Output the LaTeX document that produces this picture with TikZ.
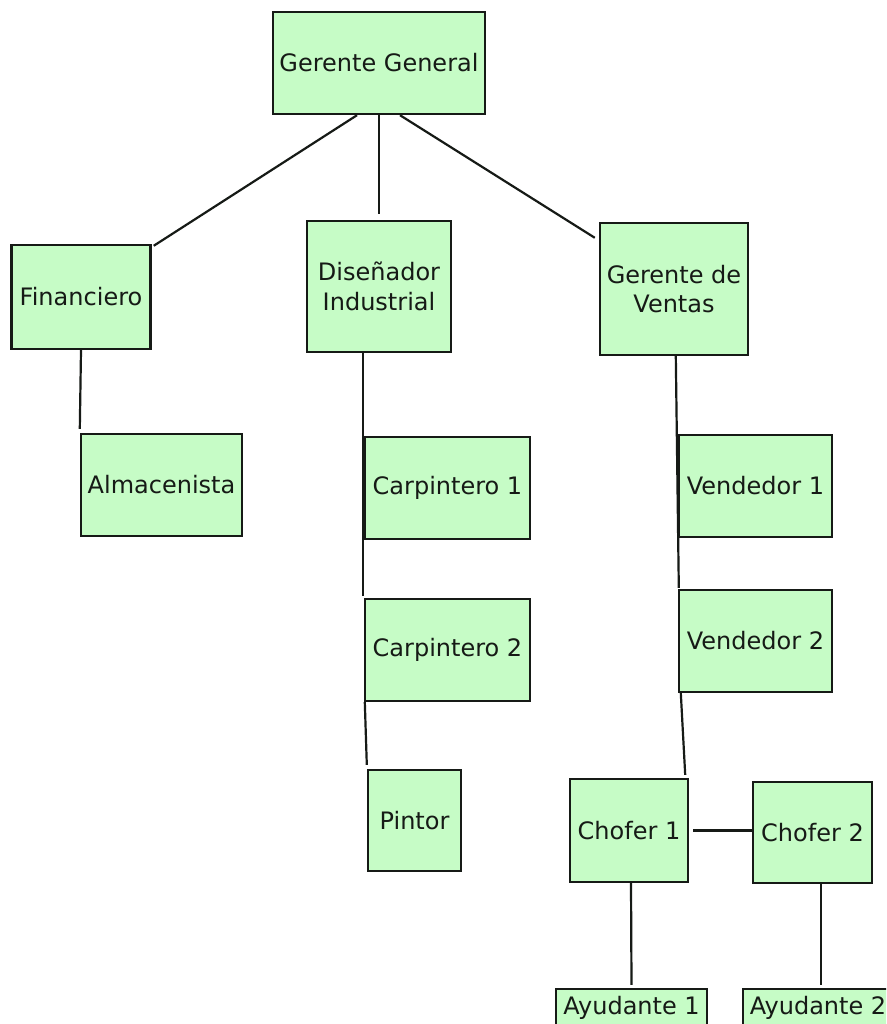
\documentclass[tikz,border=0pt]{standalone}
\usepackage{fontspec}
\setmainfont{DejaVu Sans}
\usetikzlibrary{calc}
\definecolor{boxgreen}{RGB}{198,252,198}
\definecolor{inkdark}{RGB}{22,26,22}
\begin{document}
\begin{tikzpicture}[x=1pt,y=-1pt,
  role/.style={draw=inkdark,fill=boxgreen,line width=2.4pt,rectangle,inner sep=0pt,
    align=center,text=inkdark,font=\fontsize{24}{29.5}\selectfont},
  link/.style={draw=inkdark,line width=2.2pt}]
\useasboundingbox (0,0) rectangle (886,1024);
\clip (0,0) rectangle (886,1024);

% boxes of the organisation chart
\node[role,minimum width=212pt,minimum height=102pt] (gg)  at (379,63)     {Gerente General};
\node[role,minimum width=139pt,minimum height=104pt] (fin) at (81,297)     {Financiero};
\node[role,minimum width=144pt,minimum height=131pt] (dis) at (379,286.5)  {Diseñador\\Industrial};
\node[role,minimum width=148pt,minimum height=132pt] (gv)  at (674,289)    {Gerente de\\Ventas};
\node[role,minimum width=161pt,minimum height=102pt] (alm) at (161.5,485)  {Almacenista};
\node[role,minimum width=165pt,minimum height=102pt] (c1)  at (447.5,488)  {Carpintero 1};
\node[role,minimum width=165pt,minimum height=102pt] (c2)  at (447.5,650)  {Carpintero 2};
\node[role,minimum width=93pt,minimum height=101pt]  (pin) at (414.5,820.5){Pintor};
\node[role,minimum width=153pt,minimum height=102pt] (v1)  at (755.5,486)  {Vendedor 1};
\node[role,minimum width=153pt,minimum height=102pt] (v2)  at (755.5,641)  {Vendedor 2};
\node[role,minimum width=118pt,minimum height=103pt] (ch1) at (629,830.5)  {Chofer 1};
\node[role,minimum width=119pt,minimum height=101pt] (ch2) at (812.5,832.5){Chofer 2};
\node[role,minimum width=151pt,minimum height=38pt]  (ay1) at (631.5,1008) {Ayudante 1};
\node[role,minimum width=150pt,minimum height=38pt]  (ay2) at (818,1008)   {Ayudante 2};

% connectors
\draw[link] ($(gg.south)+(-22,0)$) -- ($(fin.north east)+(2,2)$);
\draw[link] (gg.south) -- ($(dis.north)+(0,-6)$);
\draw[link] ($(gg.south)+(21,0)$) -- ($(gv.north west)+(-4,16)$);
\draw[link] (fin.south) -- ($(alm.north west)+(0,-4)$);
\draw[link] ($(dis.south west)+(57,0)$) -- ($(c2.north west)+(-1,-2)$);
\draw[link] ($(c2.south west)+(1,0)$) -- ($(pin.north west)+(0,-4)$);
\draw[link] ($(gv.south west)+(77,0)$) -- ($(v2.north west)+(1,-1)$);
\draw[link] ($(v2.south west)+(3,0)$) -- ($(ch1.north east)+(-4,-3)$);
\draw[link,shorten <=4pt] (ch1.east) -- (ch1.east -| ch2.west);
\draw[link] ($(ch1.south)+(2,0)$) -- ($(ay1.north)+(0,-3)$);
\draw[link] ($(ch2.south)+(8.5,0)$) -- ($(ay2.north)+(3,-3)$);
\end{tikzpicture}
\end{document}
